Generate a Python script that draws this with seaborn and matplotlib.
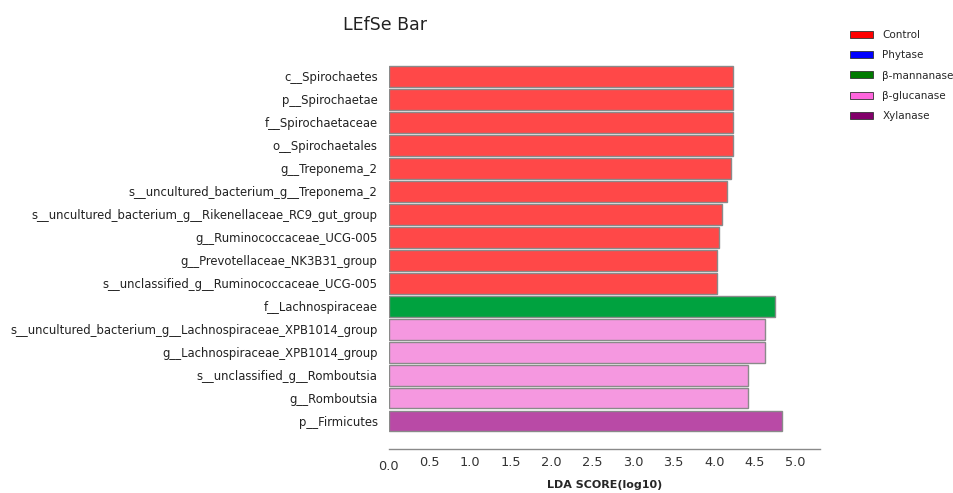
import matplotlib
matplotlib.use("Agg")
import matplotlib.pyplot as plt
import seaborn as sns
import pandas as pd
from matplotlib.patches import Patch

taxa = [
    "c__Spirochaetes",
    "p__Spirochaetae",
    "f__Spirochaetaceae",
    "o__Spirochaetales",
    "g__Treponema_2",
    "s__uncultured_bacterium_g__Treponema_2",
    "s__uncultured_bacterium_g__Rikenellaceae_RC9_gut_group",
    "g__Ruminococcaceae_UCG-005",
    "g__Prevotellaceae_NK3B31_group",
    "s__unclassified_g__Ruminococcaceae_UCG-005",
    "f__Lachnospiraceae",
    "s__uncultured_bacterium_g__Lachnospiraceae_XPB1014_group",
    "g__Lachnospiraceae_XPB1014_group",
    "s__unclassified_g__Romboutsia",
    "g__Romboutsia",
    "p__Firmicutes",
]
lda = [4.23, 4.23, 4.23, 4.23, 4.21, 4.155, 4.10, 4.055, 4.04, 4.03,
       4.75, 4.63, 4.63, 4.41, 4.41, 4.83]
group = ["Control"] * 10 + ["β-mannanase"] + ["β-glucanase"] * 4 + ["Xylanase"]

legend_groups = ["Control", "Phytase", "β-mannanase", "β-glucanase", "Xylanase"]
bar_colors = {"Control": "#FF4848", "Phytase": "#3030FF", "β-mannanase": "#00A23F",
              "β-glucanase": "#F598E0", "Xylanase": "#B94AA6"}
legend_colors = ["#FF0000", "#0000FF", "#007A00", "#FF66DD", "#82006A"]
xticks = [0.0, 0.5, 1.0, 1.5, 2.0, 2.5, 3.0, 3.5, 4.0, 4.5, 5.0]

df = pd.DataFrame({"taxon": taxa, "lda": lda, "group": group})

sns.set_style("white")
plt.rcParams["font.family"] = ["DejaVu Sans"]

fig = plt.figure(figsize=(9.54, 4.93), dpi=100)
W, H = 954, 493
left_px, right_px, top_px, bot_px = 388.7, 820, 62.7, 449
ax = fig.add_axes([left_px / W, 1 - bot_px / H, (right_px - left_px) / W, (bot_px - top_px) / H])

sns.barplot(data=df, x="lda", y="taxon", hue="group", palette=bar_colors,
            dodge=False, legend=False, ax=ax, width=0.91, saturation=1,
            edgecolor="#8a8a8a", linewidth=1.0, orient="h")

ax.set_xlim(0, 5.3)
ax.set_ylim(15 + (bot_px - 421) / 22.97, -0.6)
ax.set_xticks(xticks)
ax.set_xticklabels([f"{t:.1f}" for t in xticks], fontsize=9.3, color="#333333")
ax.tick_params(axis="x", direction="in", length=4, width=1, color="#8a8a8a", pad=5)
ax.tick_params(axis="y", length=0, pad=8, labelsize=8.4, labelcolor="#222222")
first = ax.get_xticklabels()[0]
first.set_y(-0.01)
ax.set_ylabel("")
ax.set_xlabel("LDA SCORE(log10)", fontsize=8, fontweight="bold", labelpad=5)
for s in ["top", "right", "left"]:
    ax.spines[s].set_visible(False)
ax.spines["bottom"].set_color("#8a8a8a")
ax.spines["bottom"].set_linewidth(1)

fig.text(343 / W, 1 - 25 / H, "LEfSe Bar", fontsize=12.5, va="center", ha="left", color="#222222")

handles = [Patch(facecolor=c, edgecolor="#333333", linewidth=0.6, label=g)
           for g, c in zip(legend_groups, legend_colors)]
fig.legend(handles=handles, loc="upper left", bbox_to_anchor=(846 / W, 1 - 26 / H),
           frameon=False, fontsize=7.5, handlelength=2.2, handleheight=0.65,
           labelspacing=0.98, handletextpad=0.9, borderaxespad=0)

fig.savefig("out.png", dpi=100)
